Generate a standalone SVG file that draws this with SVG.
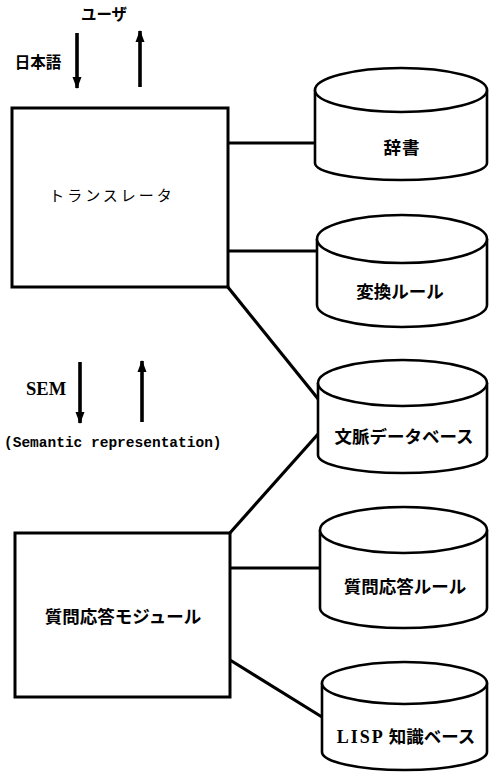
<svg xmlns="http://www.w3.org/2000/svg" width="489" height="775" viewBox="0 0 489 775">
<defs>
<style>
.box{fill:#fff;stroke:#000;stroke-width:3}
.cyl{fill:#fff;stroke:#000;stroke-width:2.6;stroke-linejoin:round}
.con{stroke:#000;stroke-width:3.2;fill:none}
.arr{stroke:#000;stroke-width:3.6;fill:none}
.jp{font-family:"Noto Sans CJK JP","Noto Sans CJK SC",sans-serif;font-weight:bold;font-size:17.5px;fill:#000;text-anchor:middle}
.ser{font-family:"Liberation Serif",serif;font-weight:bold;fill:#000}
.mono{font-family:"Liberation Mono",monospace;font-weight:bold;font-size:14.5px;fill:#000}
</style>
<marker id="ah" viewBox="0 0 12 10" refX="11" refY="5" markerWidth="12" markerHeight="10" markerUnits="userSpaceOnUse" orient="auto">
<path d="M0,0.5 L12,5 L0,9.5 Z" fill="#000"/>
</marker>
</defs>
<rect width="489" height="775" fill="#fff"/>

<g id="connectors">
<line class="con" x1="228" y1="143" x2="316" y2="143"/>
<line class="con" x1="228" y1="251" x2="318" y2="251"/>
<line class="con" x1="227" y1="286" x2="319" y2="400"/>
<line class="con" x1="319" y1="433" x2="229" y2="534"/>
<line class="con" x1="230" y1="568" x2="320" y2="568"/>
<line class="con" x1="230" y1="660" x2="322" y2="717"/>
<line class="arr" x1="77" y1="33" x2="77" y2="88" marker-end="url(#ah)"/>
<line class="arr" x1="140" y1="87" x2="140" y2="31" marker-end="url(#ah)"/>
<line class="arr" x1="80" y1="362" x2="80" y2="423" marker-end="url(#ah)"/>
<line class="arr" x1="142" y1="422" x2="142" y2="361" marker-end="url(#ah)"/>
</g>

<g id="user-label">
<text class="jp" x="104" y="20" font-size="15.5" style="font-size:15.5px">ユーザ</text>
<text class="jp" x="38" y="68" style="font-size:15.5px">日本語</text>
</g>

<g id="translator">
<rect class="box" x="12" y="108" width="216" height="179"/>
<text class="jp" x="112" y="201" style="font-weight:normal;font-size:15px;letter-spacing:3px">トランスレータ</text>
</g>

<g id="sem-label">
<text class="ser" x="26" y="395" font-size="18.5">SEM</text>
<text class="mono" x="4" y="447">(Semantic representation)</text>
</g>

<g id="qa-module">
<rect class="box" x="15" y="533" width="215" height="164"/>
<text class="jp" x="123" y="623">質問応答モジュール</text>
</g>

<g id="dict">
<path class="cyl" d="M315,90 V163 A86,17 0 0 0 487,163 V90"/>
<ellipse class="cyl" cx="401" cy="90" rx="86" ry="22"/>
<text class="jp" x="402" y="154" style="letter-spacing:1px">辞書</text>
</g>

<g id="conv-rules">
<path class="cyl" d="M317,239 V305 A85,22 0 0 0 487,305 V239"/>
<ellipse class="cyl" cx="402" cy="239" rx="85" ry="24"/>
<text class="jp" x="400" y="298">変換ルール</text>
</g>

<g id="context-db">
<path class="cyl" d="M318,383 V455 A84.5,18 0 0 0 487,455 V383"/>
<ellipse class="cyl" cx="402.5" cy="383" rx="84.5" ry="23"/>
<text class="jp" x="404" y="443">文脈データベース</text>
</g>

<g id="qa-rules">
<path class="cyl" d="M320,530 V608 A83.5,20 0 0 0 487,608 V530"/>
<ellipse class="cyl" cx="403.5" cy="530" rx="83.5" ry="23"/>
<text class="jp" x="405" y="593">質問応答ルール</text>
</g>

<g id="lisp-kb">
<path class="cyl" d="M322,683 V752 A82.5,18 0 0 0 487,752 V683"/>
<ellipse class="cyl" cx="404.5" cy="683" rx="82.5" ry="21"/>
<text class="jp" x="406" y="743"><tspan style="font-family:'Liberation Serif',serif;font-size:18px" letter-spacing="2">LISP</tspan> 知識ベース</text>
</g>
</svg>
